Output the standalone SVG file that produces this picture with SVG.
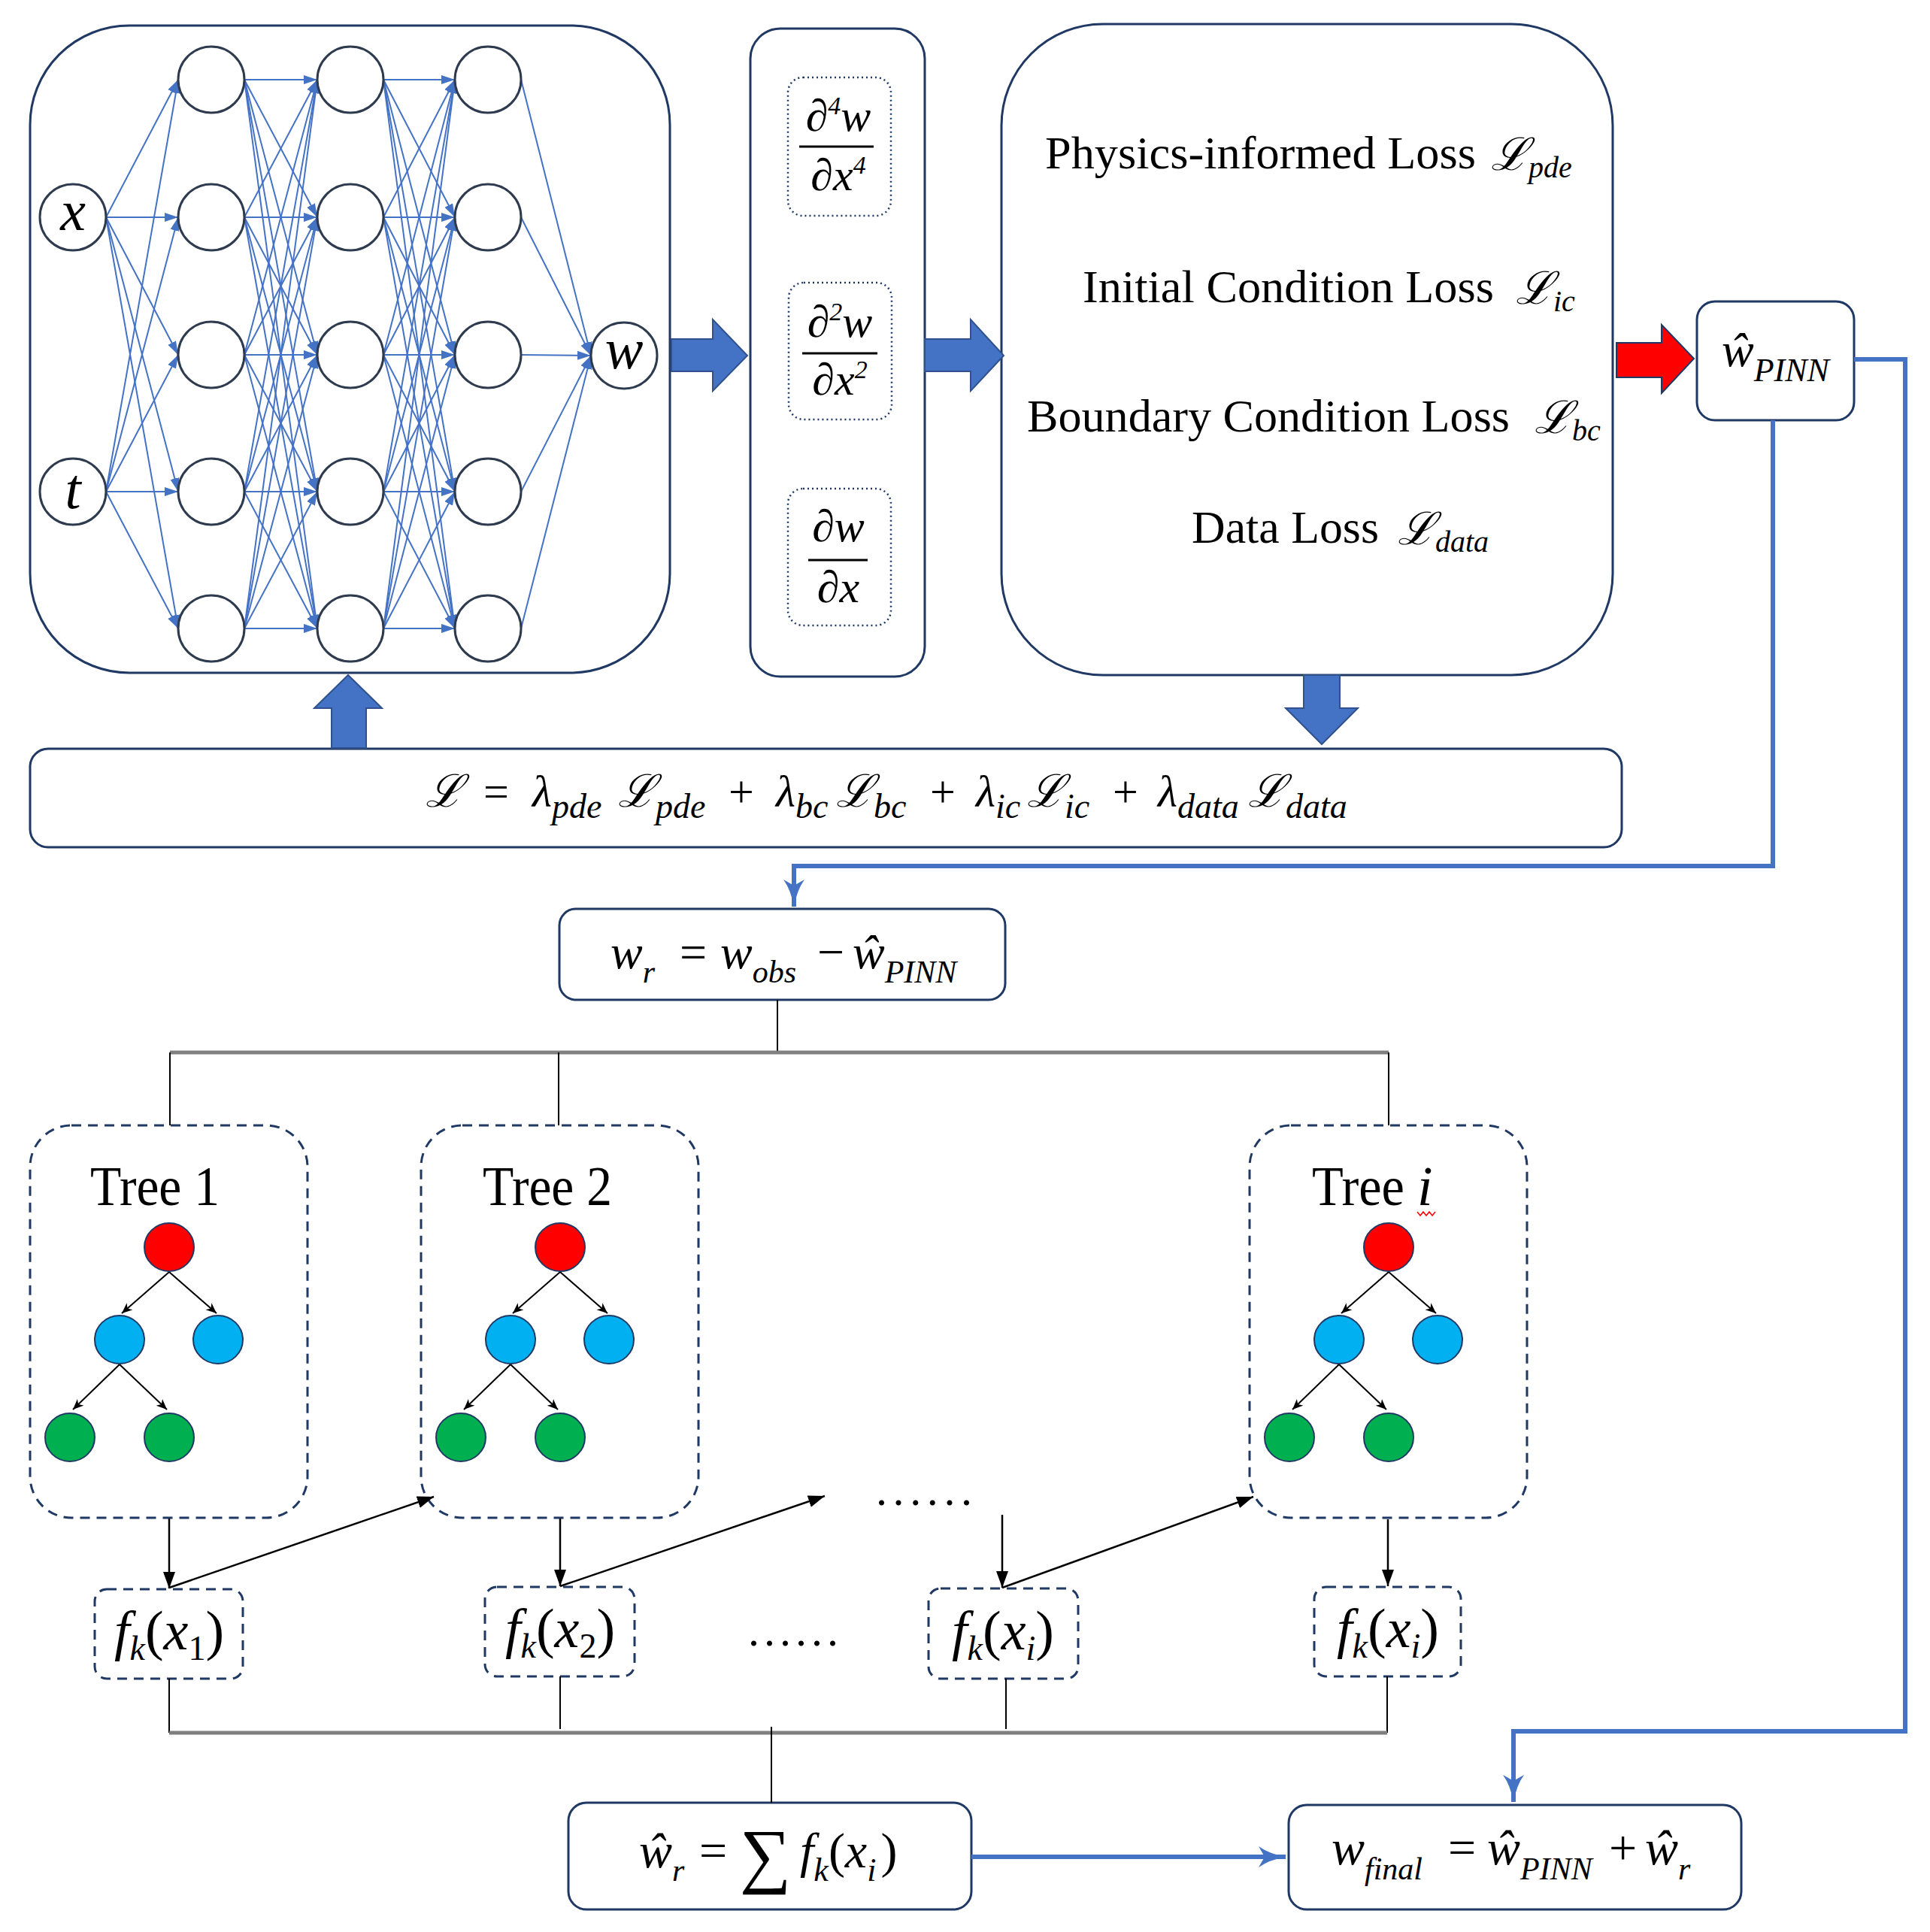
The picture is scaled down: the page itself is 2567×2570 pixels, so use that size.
<svg xmlns="http://www.w3.org/2000/svg" width="2567" height="2570" viewBox="0 0 2567 2570">
<style>
text{font-family:"Liberation Serif","DejaVu Serif",serif;fill:#000}
.it{font-style:italic}
.up{font-style:normal}
.box{fill:#fff;stroke:#1F3864;stroke-width:3}
.dotbox{fill:none;stroke:#1F3864;stroke-width:2.5;stroke-dasharray:2 4}
.dash{fill:none;stroke:#1F3864;stroke-width:3;stroke-dasharray:13 9}
.nn{stroke:#4472C4;stroke-width:2;fill:none;marker-end:url(#nnArr)}
.neuron{fill:#fff;stroke:#2E3B4E;stroke-width:3}
.blk{fill:#4472C4;stroke:#2F528F;stroke-width:2}
.blue{fill:none;stroke:#4472C4;stroke-width:6}
.bk{fill:none;stroke:#000;stroke-width:2}
.gray{fill:none;stroke:#7F7F7F;stroke-width:5}
.tarr{fill:none;stroke:#000;stroke-width:2;marker-end:url(#tArr)}
.karr{fill:none;stroke:#000;stroke-width:2.5;marker-end:url(#kArr)}
.red{fill:#FF0000;stroke:#1F3864;stroke-width:2}
.cyan{fill:#00B0F0;stroke:#1F3864;stroke-width:2}
.green{fill:#00B050;stroke:#1F3864;stroke-width:2}
.frac{stroke:#000;stroke-width:3}
</style>
<defs>
<marker id="nnArr" markerUnits="userSpaceOnUse" markerWidth="20" markerHeight="14" refX="18" refY="6" orient="auto"><path d="M0,0 L18,6 L0,12 z" fill="#4472C4"/></marker>
<marker id="tArr" markerUnits="userSpaceOnUse" markerWidth="16" markerHeight="14" refX="14" refY="6" orient="auto"><path d="M0,0 L14,6 L0,12 L4,6 z" fill="#000"/></marker>
<marker id="kArr" markerUnits="userSpaceOnUse" markerWidth="24" markerHeight="18" refX="22" refY="8" orient="auto"><path d="M0,0 L22,8 L0,16 z" fill="#000"/></marker>
<marker id="bArr" markerUnits="userSpaceOnUse" markerWidth="40" markerHeight="30" refX="36" refY="14" orient="auto"><path d="M0,0 Q14,10 36,14 Q14,18 0,28 L8,14 z" fill="#4472C4"/></marker>
</defs>

<!-- Neural network -->
<g id="nn-box">
<rect class="box" x="40" y="34" width="851" height="861" rx="132"/>
</g>
<g id="nn-links">
<line class="nn" x1="141" y1="289" x2="237" y2="106"/>
<line class="nn" x1="141" y1="289" x2="237" y2="289"/>
<line class="nn" x1="141" y1="289" x2="237" y2="472"/>
<line class="nn" x1="141" y1="289" x2="237" y2="654"/>
<line class="nn" x1="141" y1="289" x2="237" y2="836"/>
<line class="nn" x1="141" y1="654" x2="237" y2="106"/>
<line class="nn" x1="141" y1="654" x2="237" y2="289"/>
<line class="nn" x1="141" y1="654" x2="237" y2="472"/>
<line class="nn" x1="141" y1="654" x2="237" y2="654"/>
<line class="nn" x1="141" y1="654" x2="237" y2="836"/>

<line class="nn" x1="325" y1="106" x2="422" y2="106"/>
<line class="nn" x1="325" y1="106" x2="422" y2="289"/>
<line class="nn" x1="325" y1="106" x2="422" y2="472"/>
<line class="nn" x1="325" y1="106" x2="422" y2="654"/>
<line class="nn" x1="325" y1="106" x2="422" y2="836"/>
<line class="nn" x1="325" y1="289" x2="422" y2="106"/>
<line class="nn" x1="325" y1="289" x2="422" y2="289"/>
<line class="nn" x1="325" y1="289" x2="422" y2="472"/>
<line class="nn" x1="325" y1="289" x2="422" y2="654"/>
<line class="nn" x1="325" y1="289" x2="422" y2="836"/>
<line class="nn" x1="325" y1="472" x2="422" y2="106"/>
<line class="nn" x1="325" y1="472" x2="422" y2="289"/>
<line class="nn" x1="325" y1="472" x2="422" y2="472"/>
<line class="nn" x1="325" y1="472" x2="422" y2="654"/>
<line class="nn" x1="325" y1="472" x2="422" y2="836"/>
<line class="nn" x1="325" y1="654" x2="422" y2="106"/>
<line class="nn" x1="325" y1="654" x2="422" y2="289"/>
<line class="nn" x1="325" y1="654" x2="422" y2="472"/>
<line class="nn" x1="325" y1="654" x2="422" y2="654"/>
<line class="nn" x1="325" y1="654" x2="422" y2="836"/>
<line class="nn" x1="325" y1="836" x2="422" y2="106"/>
<line class="nn" x1="325" y1="836" x2="422" y2="289"/>
<line class="nn" x1="325" y1="836" x2="422" y2="472"/>
<line class="nn" x1="325" y1="836" x2="422" y2="654"/>
<line class="nn" x1="325" y1="836" x2="422" y2="836"/>

<line class="nn" x1="510" y1="106" x2="605" y2="106"/>
<line class="nn" x1="510" y1="106" x2="605" y2="289"/>
<line class="nn" x1="510" y1="106" x2="605" y2="472"/>
<line class="nn" x1="510" y1="106" x2="605" y2="654"/>
<line class="nn" x1="510" y1="106" x2="605" y2="836"/>
<line class="nn" x1="510" y1="289" x2="605" y2="106"/>
<line class="nn" x1="510" y1="289" x2="605" y2="289"/>
<line class="nn" x1="510" y1="289" x2="605" y2="472"/>
<line class="nn" x1="510" y1="289" x2="605" y2="654"/>
<line class="nn" x1="510" y1="289" x2="605" y2="836"/>
<line class="nn" x1="510" y1="472" x2="605" y2="106"/>
<line class="nn" x1="510" y1="472" x2="605" y2="289"/>
<line class="nn" x1="510" y1="472" x2="605" y2="472"/>
<line class="nn" x1="510" y1="472" x2="605" y2="654"/>
<line class="nn" x1="510" y1="472" x2="605" y2="836"/>
<line class="nn" x1="510" y1="654" x2="605" y2="106"/>
<line class="nn" x1="510" y1="654" x2="605" y2="289"/>
<line class="nn" x1="510" y1="654" x2="605" y2="472"/>
<line class="nn" x1="510" y1="654" x2="605" y2="654"/>
<line class="nn" x1="510" y1="654" x2="605" y2="836"/>
<line class="nn" x1="510" y1="836" x2="605" y2="106"/>
<line class="nn" x1="510" y1="836" x2="605" y2="289"/>
<line class="nn" x1="510" y1="836" x2="605" y2="472"/>
<line class="nn" x1="510" y1="836" x2="605" y2="654"/>
<line class="nn" x1="510" y1="836" x2="605" y2="836"/>

<line class="nn" x1="693" y1="106" x2="786" y2="473"/>
<line class="nn" x1="693" y1="289" x2="786" y2="473"/>
<line class="nn" x1="693" y1="472" x2="786" y2="473"/>
<line class="nn" x1="693" y1="654" x2="786" y2="473"/>
<line class="nn" x1="693" y1="836" x2="786" y2="473"/>
</g>
<g id="nn-input-x"><circle class="neuron" cx="97" cy="289" r="44"/><text class="it" x="97" y="306" font-size="76" text-anchor="middle">x</text></g>
<g id="nn-input-t"><circle class="neuron" cx="97" cy="654" r="44"/><text class="it" x="97" y="676" font-size="76" text-anchor="middle">t</text></g>
<g id="nn-hidden-1">
<circle class="neuron" cx="281" cy="106" r="44"/><circle class="neuron" cx="281" cy="289" r="44"/><circle class="neuron" cx="281" cy="472" r="44"/><circle class="neuron" cx="281" cy="654" r="44"/><circle class="neuron" cx="281" cy="836" r="44"/>
</g>
<g id="nn-hidden-2">
<circle class="neuron" cx="466" cy="106" r="44"/><circle class="neuron" cx="466" cy="289" r="44"/><circle class="neuron" cx="466" cy="472" r="44"/><circle class="neuron" cx="466" cy="654" r="44"/><circle class="neuron" cx="466" cy="836" r="44"/>
</g>
<g id="nn-hidden-3">
<circle class="neuron" cx="649" cy="106" r="44"/><circle class="neuron" cx="649" cy="289" r="44"/><circle class="neuron" cx="649" cy="472" r="44"/><circle class="neuron" cx="649" cy="654" r="44"/><circle class="neuron" cx="649" cy="836" r="44"/>
</g>
<g id="nn-output-w"><circle class="neuron" cx="830" cy="473" r="44"/><text class="it" x="830" y="490" font-size="76" text-anchor="middle">w</text></g>

<!-- Derivatives -->
<g id="derivatives">
<rect class="box" x="998" y="38" width="232" height="862" rx="40"/>
<rect class="dotbox" x="1048" y="103" width="137" height="184" rx="20"/>
<text class="it" x="1115" y="174" font-size="60" text-anchor="middle">∂<tspan font-size="34" dy="-22">4</tspan><tspan dy="22">w</tspan></text>
<line class="frac" x1="1063" y1="195" x2="1162" y2="195"/>
<text class="it" x="1115" y="253" font-size="60" text-anchor="middle">∂x<tspan font-size="34" dy="-22">4</tspan></text>
<rect class="dotbox" x="1049" y="376" width="137" height="182" rx="20"/>
<text class="it" x="1117" y="448" font-size="60" text-anchor="middle">∂<tspan font-size="34" dy="-22">2</tspan><tspan dy="22">w</tspan></text>
<line class="frac" x1="1067" y1="470" x2="1167" y2="470"/>
<text class="it" x="1117" y="525" font-size="60" text-anchor="middle">∂x<tspan font-size="34" dy="-22">2</tspan></text>
<rect class="dotbox" x="1048" y="650" width="137" height="182" rx="20"/>
<text class="it" x="1115" y="720" font-size="60" text-anchor="middle">∂w</text>
<line class="frac" x1="1075" y1="745" x2="1154" y2="745"/>
<text class="it" x="1115" y="801" font-size="60" text-anchor="middle">∂x</text>
</g>

<!-- Loss terms -->
<g id="loss-terms">
<rect class="box" x="1332" y="32" width="813" height="866" rx="135"/>
<text x="1390" y="224" font-size="62" textLength="573" lengthAdjust="spacingAndGlyphs">Physics-informed Loss</text>
<text class="it" x="1983" y="226" font-size="60">ℒ<tspan font-size="40" dy="10">pde</tspan></text>
<text x="1440" y="402" font-size="62" textLength="547" lengthAdjust="spacingAndGlyphs">Initial Condition Loss</text>
<text class="it" x="2016" y="404" font-size="60">ℒ<tspan font-size="40" dy="10">ic</tspan></text>
<text x="1366" y="574" font-size="62" textLength="642" lengthAdjust="spacingAndGlyphs">Boundary Condition Loss</text>
<text class="it" x="2041" y="576" font-size="60">ℒ<tspan font-size="40" dy="10">bc</tspan></text>
<text x="1585" y="722" font-size="62" textLength="249" lengthAdjust="spacingAndGlyphs">Data Loss</text>
<text class="it" x="1859" y="724" font-size="60">ℒ<tspan font-size="40" dy="10">data</tspan></text>
</g>

<!-- PINN output -->
<g id="w-pinn">
<rect class="box" x="2257" y="401" width="209" height="158" rx="24"/>
<text class="it" x="2290" y="487" font-size="64">ŵ<tspan font-size="44" dy="20">PINN</tspan></text>
</g>

<!-- Total loss -->
<g id="total-loss">
<rect class="box" x="40" y="996" width="2117" height="131" rx="24"/>
<text class="it" font-size="60" y="1073"><tspan x="566">ℒ</tspan><tspan class="up" x="643">=</tspan><tspan x="708">λ</tspan><tspan font-size="46" dy="15">pde</tspan><tspan x="822" dy="-15">ℒ</tspan><tspan font-size="46" dy="15">pde</tspan><tspan class="up" x="969" dy="-15">+</tspan><tspan x="1032">λ</tspan><tspan font-size="46" dy="15">bc</tspan><tspan x="1112" dy="-15">ℒ</tspan><tspan font-size="46" dy="15">bc</tspan><tspan class="up" x="1237" dy="-15">+</tspan><tspan x="1298">λ</tspan><tspan font-size="46" dy="15">ic</tspan><tspan x="1366" dy="-15">ℒ</tspan><tspan font-size="46" dy="15">ic</tspan><tspan class="up" x="1480" dy="-15">+</tspan><tspan x="1540">λ</tspan><tspan font-size="46" dy="15">data</tspan><tspan x="1660" dy="-15">ℒ</tspan><tspan font-size="46" dy="15">data</tspan></text>
</g>

<!-- Residual -->
<g id="residual">
<rect class="box" x="744" y="1209" width="593" height="121" rx="22"/>
<text class="it" font-size="64" y="1288"><tspan x="812">w</tspan><tspan font-size="42" dy="19">r</tspan><tspan class="up" x="904" dy="-19">=</tspan><tspan x="958">w</tspan><tspan font-size="42" dy="19">obs</tspan><tspan class="up" x="1087" dy="-19">−</tspan><tspan x="1134">ŵ</tspan><tspan font-size="42" dy="19">PINN</tspan></text>
</g>

<!-- Trees -->
<g id="tree-1">
<rect class="dash" x="40" y="1497" width="369" height="522" rx="55"/>
<text x="120" y="1603" font-size="74" textLength="172" lengthAdjust="spacingAndGlyphs">Tree 1</text>
<line class="tarr" x1="225" y1="1692" x2="162" y2="1747"/>
<line class="tarr" x1="225" y1="1692" x2="288" y2="1747"/>
<line class="tarr" x1="159" y1="1815" x2="97" y2="1875"/>
<line class="tarr" x1="159" y1="1815" x2="222" y2="1875"/>
<ellipse class="red" cx="225" cy="1659" rx="33" ry="32"/>
<ellipse class="cyan" cx="159" cy="1782" rx="33" ry="32"/>
<ellipse class="cyan" cx="290" cy="1782" rx="33" ry="32"/>
<ellipse class="green" cx="93" cy="1912" rx="33" ry="32"/>
<ellipse class="green" cx="225" cy="1912" rx="33" ry="32"/>
</g>
<g id="tree-2" transform="translate(520,0)">
<rect class="dash" x="40" y="1497" width="369" height="522" rx="55"/>
<text x="122" y="1603" font-size="74" textLength="172" lengthAdjust="spacingAndGlyphs">Tree 2</text>
<line class="tarr" x1="225" y1="1692" x2="162" y2="1747"/>
<line class="tarr" x1="225" y1="1692" x2="288" y2="1747"/>
<line class="tarr" x1="159" y1="1815" x2="97" y2="1875"/>
<line class="tarr" x1="159" y1="1815" x2="222" y2="1875"/>
<ellipse class="red" cx="225" cy="1659" rx="33" ry="32"/>
<ellipse class="cyan" cx="159" cy="1782" rx="33" ry="32"/>
<ellipse class="cyan" cx="290" cy="1782" rx="33" ry="32"/>
<ellipse class="green" cx="93" cy="1912" rx="33" ry="32"/>
<ellipse class="green" cx="225" cy="1912" rx="33" ry="32"/>
</g>
<g id="tree-i" transform="translate(1622,0)">
<rect class="dash" x="40" y="1497" width="369" height="522" rx="55"/>
<text x="123" y="1603" font-size="74" textLength="123" lengthAdjust="spacingAndGlyphs">Tree</text>
<text class="it" x="263" y="1603" font-size="74">i</text>
<path d="M263,1612 l4,5 l4,-5 l4,5 l4,-5 l4,5 l4,-5" fill="none" stroke="#FF0000" stroke-width="1.5"/>
<line class="tarr" x1="225" y1="1692" x2="162" y2="1747"/>
<line class="tarr" x1="225" y1="1692" x2="288" y2="1747"/>
<line class="tarr" x1="159" y1="1815" x2="97" y2="1875"/>
<line class="tarr" x1="159" y1="1815" x2="222" y2="1875"/>
<ellipse class="red" cx="225" cy="1659" rx="33" ry="32"/>
<ellipse class="cyan" cx="159" cy="1782" rx="33" ry="32"/>
<ellipse class="cyan" cx="290" cy="1782" rx="33" ry="32"/>
<ellipse class="green" cx="93" cy="1912" rx="33" ry="32"/>
<ellipse class="green" cx="225" cy="1912" rx="33" ry="32"/>
</g>
<g id="dots-upper"><text x="1165" y="2002" font-size="60" textLength="128" lengthAdjust="spacing">......</text></g>

<!-- Tree outputs -->
<g id="fk-1">
<rect class="dash" x="126" y="2114" width="197" height="119" rx="16"/>
<text class="it" x="225" y="2194" font-size="74" text-anchor="middle">f<tspan font-size="46" dy="14">k</tspan><tspan class="up" dy="-14">(</tspan>x<tspan class="up" font-size="46" dy="14">1</tspan><tspan class="up" dy="-14">)</tspan></text>
</g>
<g id="fk-2">
<rect class="dash" x="645" y="2111" width="199" height="119" rx="16"/>
<text class="it" x="745" y="2191" font-size="74" text-anchor="middle">f<tspan font-size="46" dy="14">k</tspan><tspan class="up" dy="-14">(</tspan>x<tspan class="up" font-size="46" dy="14">2</tspan><tspan class="up" dy="-14">)</tspan></text>
</g>
<g id="dots-lower"><text x="995" y="2189" font-size="60" textLength="120" lengthAdjust="spacing">......</text></g>
<g id="fk-3">
<rect class="dash" x="1235" y="2113" width="199" height="120" rx="16"/>
<text class="it" x="1334" y="2194" font-size="74" text-anchor="middle">f<tspan font-size="46" dy="14">k</tspan><tspan class="up" dy="-14">(</tspan>x<tspan font-size="46" dy="14">i</tspan><tspan class="up" dy="-14">)</tspan></text>
</g>
<g id="fk-4">
<rect class="dash" x="1748" y="2111" width="195" height="119" rx="16"/>
<text class="it" x="1846" y="2191" font-size="74" text-anchor="middle">f<tspan font-size="46" dy="14">k</tspan><tspan class="up" dy="-14">(</tspan>x<tspan font-size="46" dy="14">i</tspan><tspan class="up" dy="-14">)</tspan></text>
</g>

<!-- Residual prediction and final -->
<g id="residual-sum">
<rect class="box" x="756" y="2398" width="536" height="142" rx="24"/>
<text class="it" font-size="66" y="2484"><tspan x="850">ŵ</tspan><tspan font-size="42" dy="18">r</tspan><tspan class="up" x="930" dy="-18">=</tspan><tspan class="up" x="984" font-size="96" dy="16">∑</tspan><tspan x="1064" dy="-16">f</tspan><tspan font-size="44" dy="18">k</tspan><tspan class="up" dy="-18">(</tspan><tspan>x</tspan><tspan font-size="44" dy="18">i</tspan><tspan class="up" dx="6" dy="-18">)</tspan></text>
</g>
<g id="w-final">
<rect class="box" x="1714" y="2401" width="602" height="139" rx="24"/>
<text class="it" font-size="66" y="2480"><tspan x="1771">w</tspan><tspan font-size="42" dy="20">final</tspan><tspan class="up" x="1926" dy="-20">=</tspan><tspan x="1978">ŵ</tspan><tspan font-size="42" dy="20">PINN</tspan><tspan class="up" x="2140" dy="-20">+</tspan><tspan x="2188">ŵ</tspan><tspan font-size="42" dy="20">r</tspan></text>
</g>

<!-- Connectors -->
<g id="connectors">
<polygon class="blk" points="893,451 948,451 948,425 994,473 948,520 948,494 893,494"/>
<polygon class="blk" points="1230,451 1291,451 1291,425 1335,473 1291,520 1291,494 1230,494"/>
<polygon class="red" points="2150,456 2210,456 2210,432 2253,477 2210,523 2210,502 2150,502"/>
<polygon class="blk" points="441,995 441,942 418,942 463,898 508,942 487,942 487,995"/>
<polygon class="blk" points="1734,898 1782,898 1782,942 1806,942 1758,990 1710,942 1734,942"/>

<path class="blue" d="M2358,559 V1152 H1056 V1206" marker-end="url(#bArr)"/>
<path class="blue" d="M2466,478 H2534 V2303 H2013 V2397" marker-end="url(#bArr)"/>
<path class="blue" d="M1292,2470 H1710" marker-end="url(#bArr)"/>

<line class="bk" x1="1034" y1="1330" x2="1034" y2="1400"/>
<line class="gray" x1="226" y1="1400" x2="1847" y2="1400"/>
<line class="bk" x1="226" y1="1400" x2="226" y2="1497"/>
<line class="bk" x1="743" y1="1400" x2="743" y2="1497"/>
<line class="bk" x1="1847" y1="1400" x2="1847" y2="1497"/>

<line class="karr" x1="225" y1="2020" x2="225" y2="2113"/>
<line class="karr" x1="745" y1="2020" x2="745" y2="2110"/>
<line class="karr" x1="1333" y1="2015" x2="1333" y2="2112"/>
<line class="karr" x1="1846" y1="2021" x2="1846" y2="2110"/>
<line class="karr" x1="225" y1="2112" x2="577" y2="1991"/>
<line class="karr" x1="745" y1="2110" x2="1097" y2="1990"/>
<line class="karr" x1="1333" y1="2112" x2="1667" y2="1991"/>

<line class="bk" x1="225" y1="2233" x2="225" y2="2305"/>
<line class="bk" x1="745" y1="2230" x2="745" y2="2300"/>
<line class="bk" x1="1338" y1="2233" x2="1338" y2="2300"/>
<line class="bk" x1="1845" y1="2230" x2="1845" y2="2305"/>
<line class="gray" x1="225" y1="2305" x2="1845" y2="2305"/>
<line class="bk" x1="1026" y1="2297" x2="1026" y2="2398"/>
</g>
</svg>
